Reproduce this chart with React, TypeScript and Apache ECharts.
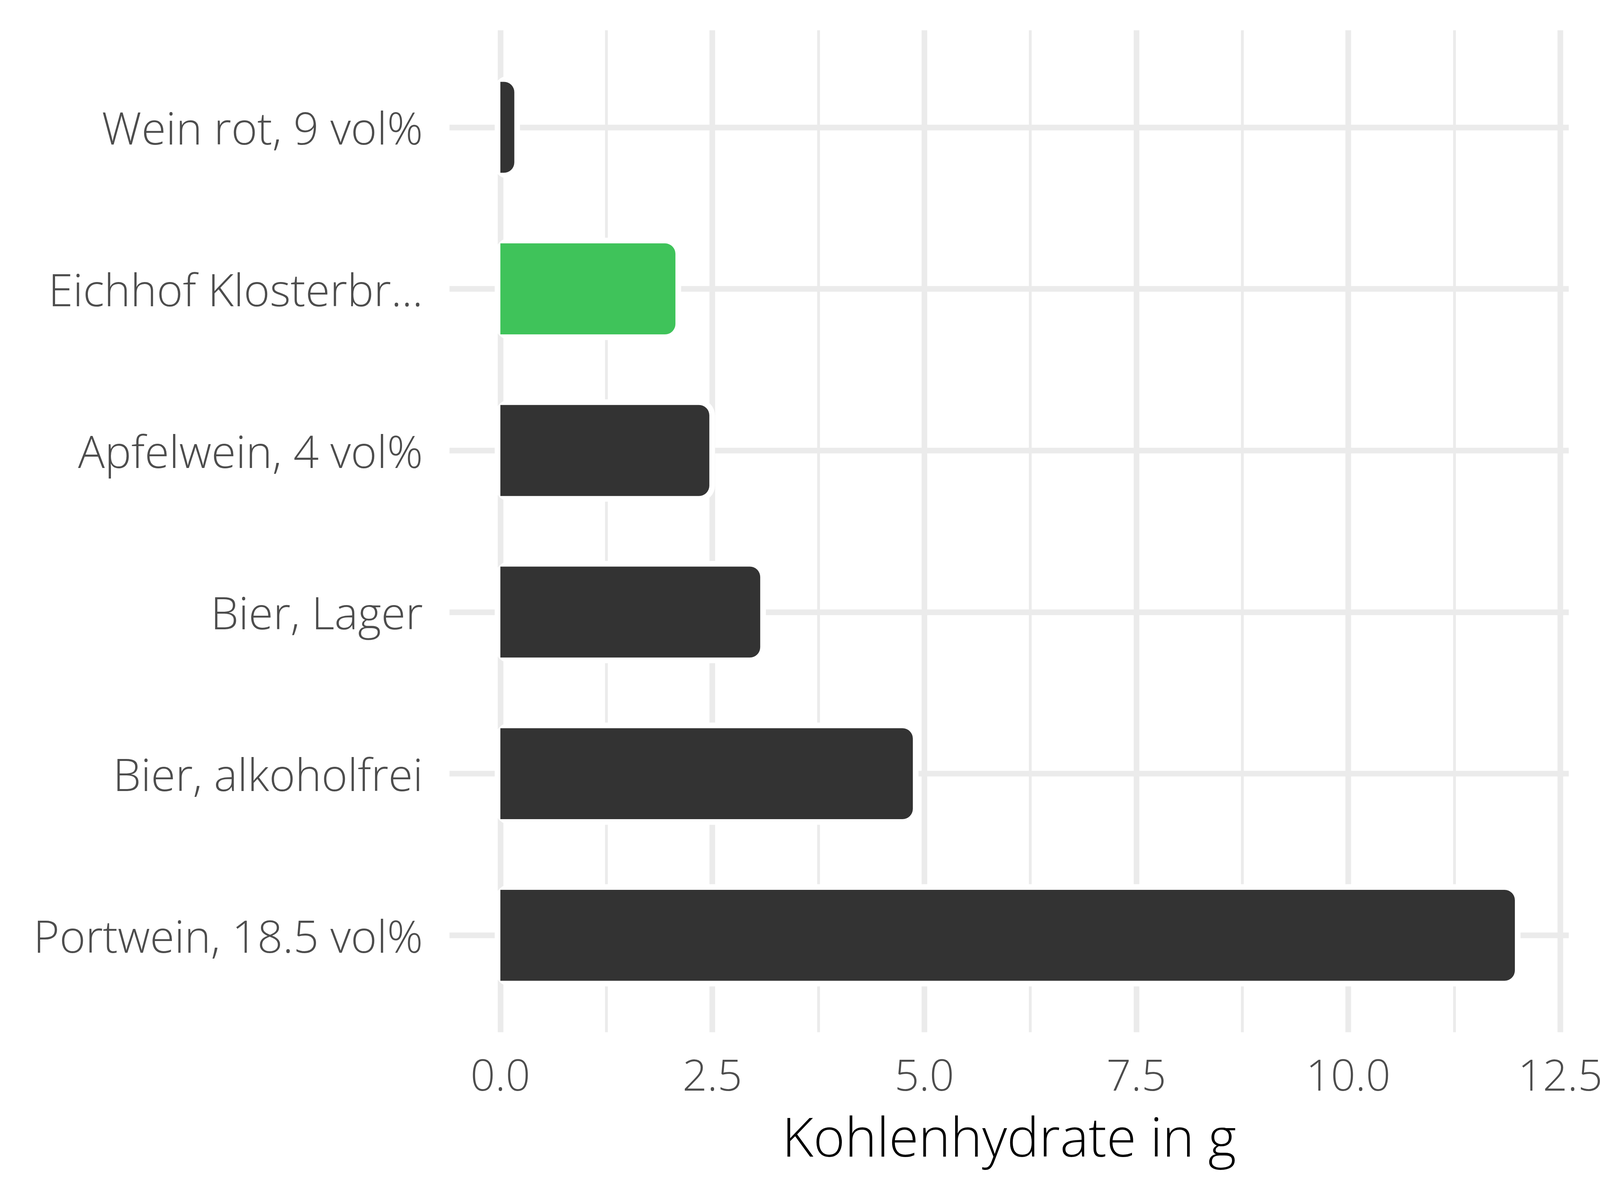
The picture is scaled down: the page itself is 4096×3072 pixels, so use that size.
import React, { useEffect, useRef } from "react";
import * as echarts from "echarts";

// ---- data ----
const categories = [
  "Wein rot, 9 vol%",
  "Eichhof Klosterbr...",
  "Apfelwein, 4 vol%",
  "Bier, Lager",
  "Bier, alkoholfrei",
  "Portwein, 18.5 vol%",
];
const values = [0.2, 2.1, 2.5, 3.1, 4.9, 12.0];
const highlighted = [false, true, false, false, false, false];
const xTicks = [0, 2.5, 5, 7.5, 10, 12.5];
const xMinorTicks = [1.25, 3.75, 6.25, 8.75, 11.25];
const xTitle = "Kohlenhydrate in g";

// ---- style ----
const FONT = "'Open Sans', 'Noto Sans', sans-serif";
const DARK = "#333333";
const GREEN = "#3FC35A";
const GRID_COLOR = "#EBEBEB";
const BAR_BAND = 0.6; // fraction of a category
const INSET = 7.7;
const HALO = 14.5;
const RADIUS = 26.5;

export default function App() {
  const ref = useRef<HTMLDivElement>(null);

  useEffect(() => {
    const chart = echarts.init(ref.current!, null, { renderer: "svg" });
    const catIdx = categories.map((_, i) => i);

    chart.setOption({
      animation: false,
      backgroundColor: "#ffffff",
      grid: {
        left: 1150.7,
        right: 80,
        top: 77.6,
        bottom: 429.4,
        containLabel: false,
        outerBoundsMode: "none",
      },
      xAxis: [
        {
          type: "value",
          min: -0.6,
          max: 12.6,
          position: "bottom",
          axisLine: { show: false, onZero: false },
          axisTick: { show: false, customValues: xTicks },
          axisLabel: {
            customValues: xTicks,
            margin: 51,
            fontSize: 111,
            fontFamily: FONT,
            fontWeight: 300,
            color: "#4D4D4D",
            formatter: (v: number) => v.toFixed(1),
          },
          splitLine: { show: true, lineStyle: { color: GRID_COLOR, width: 14.5 } },
          name: xTitle,
          nameLocation: "middle",
          nameGap: 195,
          nameTextStyle: { fontSize: 138, fontFamily: FONT, fontWeight: 300, color: "#000000" },
        },
        {
          type: "value",
          min: -0.6,
          max: 12.6,
          position: "top",
          axisLine: { show: false, onZero: false },
          axisTick: { show: false, customValues: xMinorTicks },
          axisLabel: { show: false },
          splitLine: { show: true, lineStyle: { color: GRID_COLOR, width: 7.25 } },
        },
      ],
      yAxis: {
        type: "value",
        inverse: true,
        min: -0.6,
        max: 5.6,
        axisLine: { show: false, onZero: false },
        axisTick: { show: false, customValues: catIdx },
        axisLabel: {
          customValues: catIdx,
          margin: 68,
          fontSize: 114,
          fontFamily: FONT,
          fontWeight: 300,
          color: "#4D4D4D",
          formatter: (v: number) => categories[Math.round(v)] ?? "",
        },
        splitLine: { show: true, lineStyle: { color: GRID_COLOR, width: 14.5 } },
      },
      series: [
        {
          type: "custom",
          xAxisIndex: 0,
          yAxisIndex: 0,
          data: values.map((v, i) => [v, i]),
          encode: { x: 0, y: 1 },
          renderItem: (params: any, api: any) => {
            const v = api.value(0);
            const i = api.value(1);
            const p0 = api.coord([0, i]);
            const p1 = api.coord([v, i]);
            const band = Math.abs(api.size([0, BAR_BAND])[1]);
            const top = p0[1] - band / 2 + INSET;
            const h = band - 2 * INSET;
            const x0 = p0[0];
            const w = p1[0] - INSET - x0;
            const r = Math.min(RADIUS, w);
            const color = highlighted[params.dataIndex] ? GREEN : DARK;
            return {
              type: "group",
              children: [
                {
                  type: "rect",
                  shape: {
                    x: x0 - HALO,
                    y: top - HALO,
                    width: w + 2 * HALO,
                    height: h + 2 * HALO,
                    r: r + HALO,
                  },
                  style: { fill: "#ffffff" },
                },
                {
                  type: "rect",
                  shape: { x: x0, y: top, width: w, height: h, r: [0, r, r, 0] },
                  style: { fill: color },
                },
              ],
            };
          },
        },
      ],
    });

    return () => chart.dispose();
  }, []);

  return (
    <div
      ref={ref}
      style={{ position: "absolute", left: 0, top: 0, width: 4096, height: 3072 }}
    />
  );
}
